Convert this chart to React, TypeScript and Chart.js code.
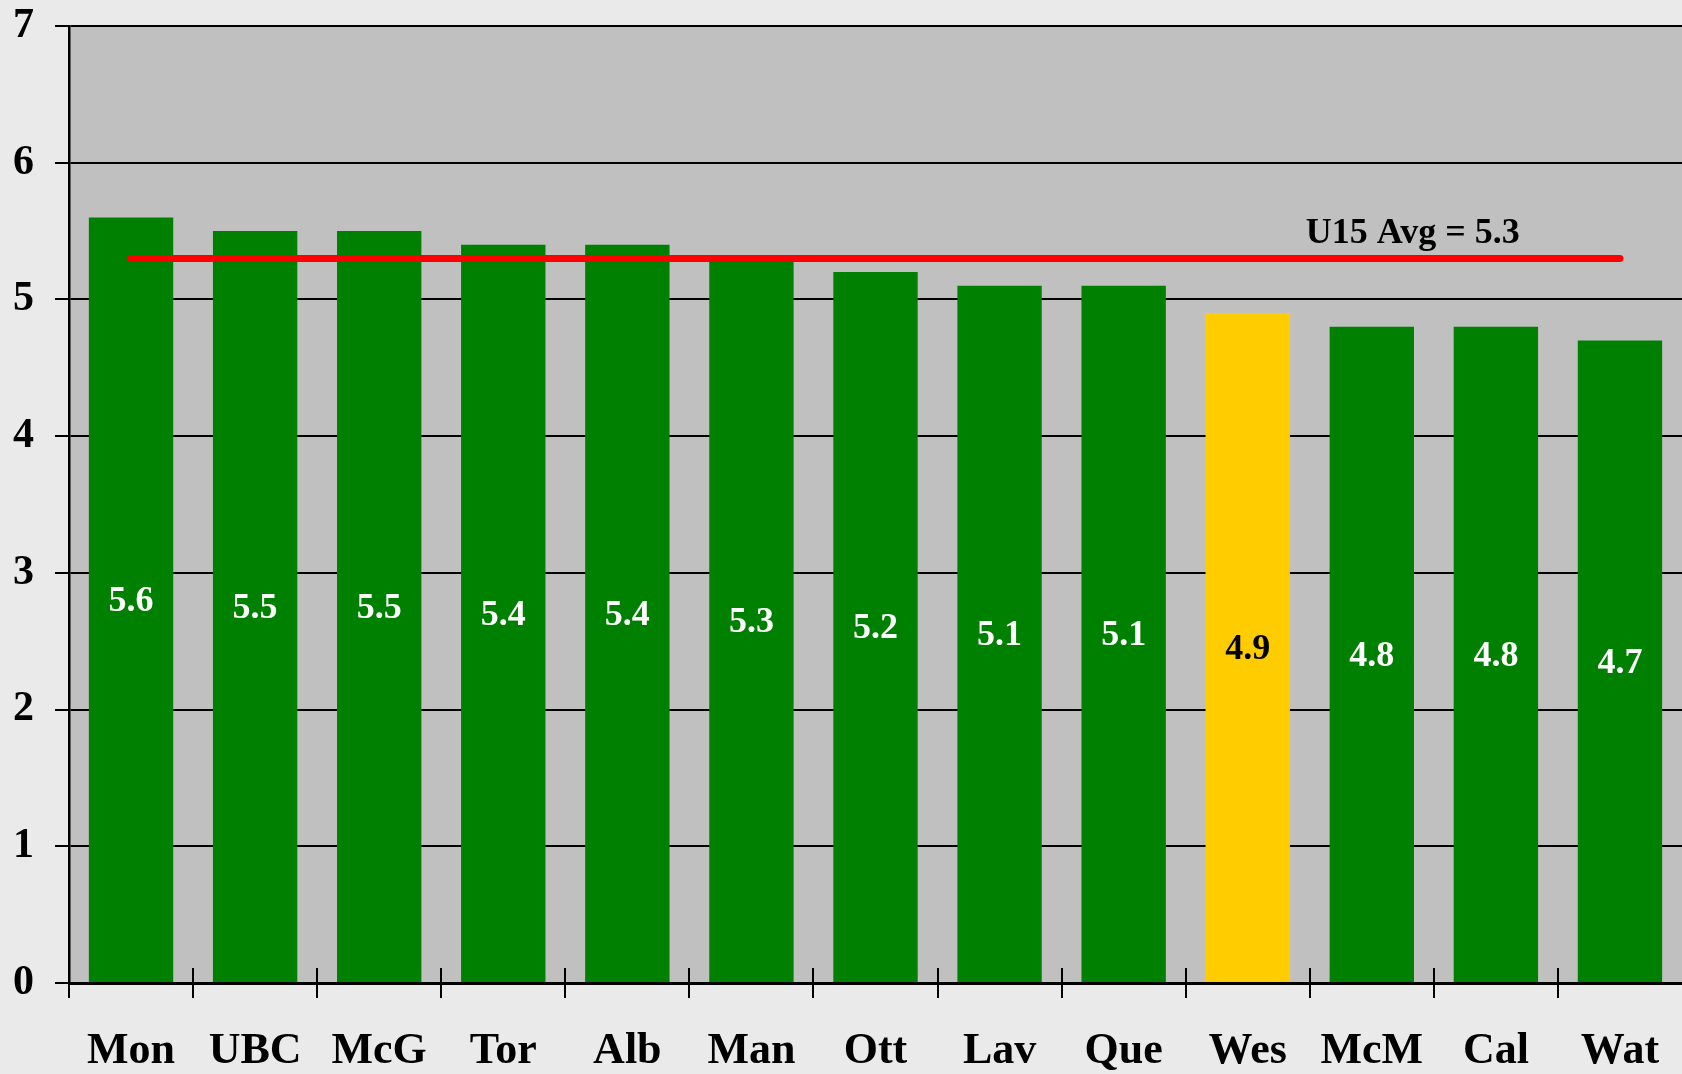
import React, { useEffect, useRef } from 'react';
import { Chart, registerables } from 'chart.js';

Chart.register(...registerables);

const categories = ['Mon', 'UBC', 'McG', 'Tor', 'Alb', 'Man', 'Ott', 'Lav', 'Que', 'Wes', 'McM', 'Cal', 'Wat'];
const scores = [5.6, 5.5, 5.5, 5.4, 5.4, 5.3, 5.2, 5.1, 5.1, 4.9, 4.8, 4.8, 4.7];
const highlightCategory = 'Wes';
const avgValue = 5.3;
const avgLabel = 'U15 Avg = 5.3';
const yMin = 0;
const yMax = 7;
const yStep = 1;

const FONT = '"Liberation Serif", "Times New Roman", serif';
const GREEN = '#008000';
const GOLD = '#FFCC00';
const PAGE_BG = '#EAEAEA';
const PLOT_BG = '#C0C0C0';

const decorPlugin = {
  id: 'decor',
  beforeDraw(chart: any) {
    const { ctx, chartArea, width, height } = chart;
    ctx.save();
    ctx.fillStyle = PAGE_BG;
    ctx.fillRect(0, 0, width, height);
    ctx.fillStyle = PLOT_BG;
    ctx.fillRect(chartArea.left, chartArea.top, chartArea.right - chartArea.left, chartArea.bottom - chartArea.top);
    ctx.restore();
  },
  afterDraw(chart: any) {
    const { ctx, scales } = chart;
    const xs = scales.x;
    const ys = scales.y;
    ctx.save();
    // category boundary ticks crossing the x axis
    const y0 = ys.getPixelForValue(0);
    ctx.strokeStyle = '#000';
    ctx.lineWidth = 2;
    for (let i = 0; i < categories.length; i++) {
      const x = Math.round(xs.getPixelForValue(i - 0.5));
      ctx.beginPath();
      ctx.moveTo(x, y0 - 15);
      ctx.lineTo(x, y0 + 15);
      ctx.stroke();
    }
    // value labels inside bars
    const meta = chart.getDatasetMeta(chart.data.datasets.findIndex((d: any) => d.type === 'bar'));
    ctx.font = `bold 36px ${FONT}`;
    ctx.textAlign = 'center';
    ctx.textBaseline = 'middle';
    meta.data.forEach((bar: any, i: number) => {
      ctx.fillStyle = categories[i] === highlightCategory ? '#000' : '#fff';
      ctx.fillText(scores[i].toFixed(1), bar.x, (bar.y + bar.base) / 2 + 2);
    });
    // average label
    ctx.font = `bold 36px ${FONT}`;
    ctx.fillStyle = '#000';
    ctx.textBaseline = 'alphabetic';
    ctx.fillText(avgLabel, xs.getPixelForValue(10.33), ys.getPixelForValue(5.413));
    ctx.restore();
  },
};

function zeroPadding(scale: any) {
  scale.paddingTop = 0;
  scale.paddingBottom = 0;
  scale.paddingLeft = 0;
  scale.paddingRight = 0;
}

export default function App() {
  const ref = useRef<HTMLCanvasElement | null>(null);

  useEffect(() => {
    if (!ref.current) return;
    const chart = new Chart(ref.current, {
      type: 'bar',
      data: {
        labels: categories,
        datasets: [
          {
            type: 'bar' as const,
            data: scores,
            backgroundColor: categories.map((c) => (c === highlightCategory ? GOLD : GREEN)),
            borderWidth: 0,
            barPercentage: 0.68,
            categoryPercentage: 1.0,
            order: 1,
          },
          {
            type: 'line' as const,
            data: categories.map(() => avgValue),
            borderColor: '#FF0000',
            borderWidth: 7,
            borderCapStyle: 'round',
            pointRadius: 0,
            fill: false,
            order: 0,
          } as any,
        ],
      },
      options: {
        animation: false,
        responsive: false,
        maintainAspectRatio: false,
        layout: { padding: { top: 26, right: 0, left: 0, bottom: 0 } },
        plugins: {
          legend: { display: false },
          tooltip: { enabled: false },
        },
        scales: {
          x: {
            type: 'category',
            offset: true,
            grid: { display: false, drawTicks: false },
            border: { display: true, color: '#000', width: 3 },
            ticks: {
              color: '#000',
              font: { family: FONT, size: 44, weight: 'bold' },
              padding: 42,
              maxRotation: 0,
              autoSkip: false,
            },
            afterFit(scale: any) {
              scale.height = 91;
              zeroPadding(scale);
            },
          },
          y: {
            min: yMin,
            max: yMax,
            grid: { color: '#000', lineWidth: 2, tickLength: 14, drawTicks: true },
            border: { display: true, color: '#000', width: 2.5 },
            ticks: {
              stepSize: yStep,
              color: '#000',
              font: { family: FONT, size: 42, weight: 'bold' },
              padding: 21,
            },
            afterFit(scale: any) {
              scale.width = 69;
              zeroPadding(scale);
            },
          },
        },
      },
      plugins: [decorPlugin],
    });
    return () => chart.destroy();
  }, []);

  return (
    <div style={{ position: 'fixed', left: 0, top: 0, width: 1682, height: 1074, background: PAGE_BG }}>
      <canvas ref={ref} width={1682} height={1074} style={{ width: 1682, height: 1074, display: 'block' }} />
    </div>
  );
}
